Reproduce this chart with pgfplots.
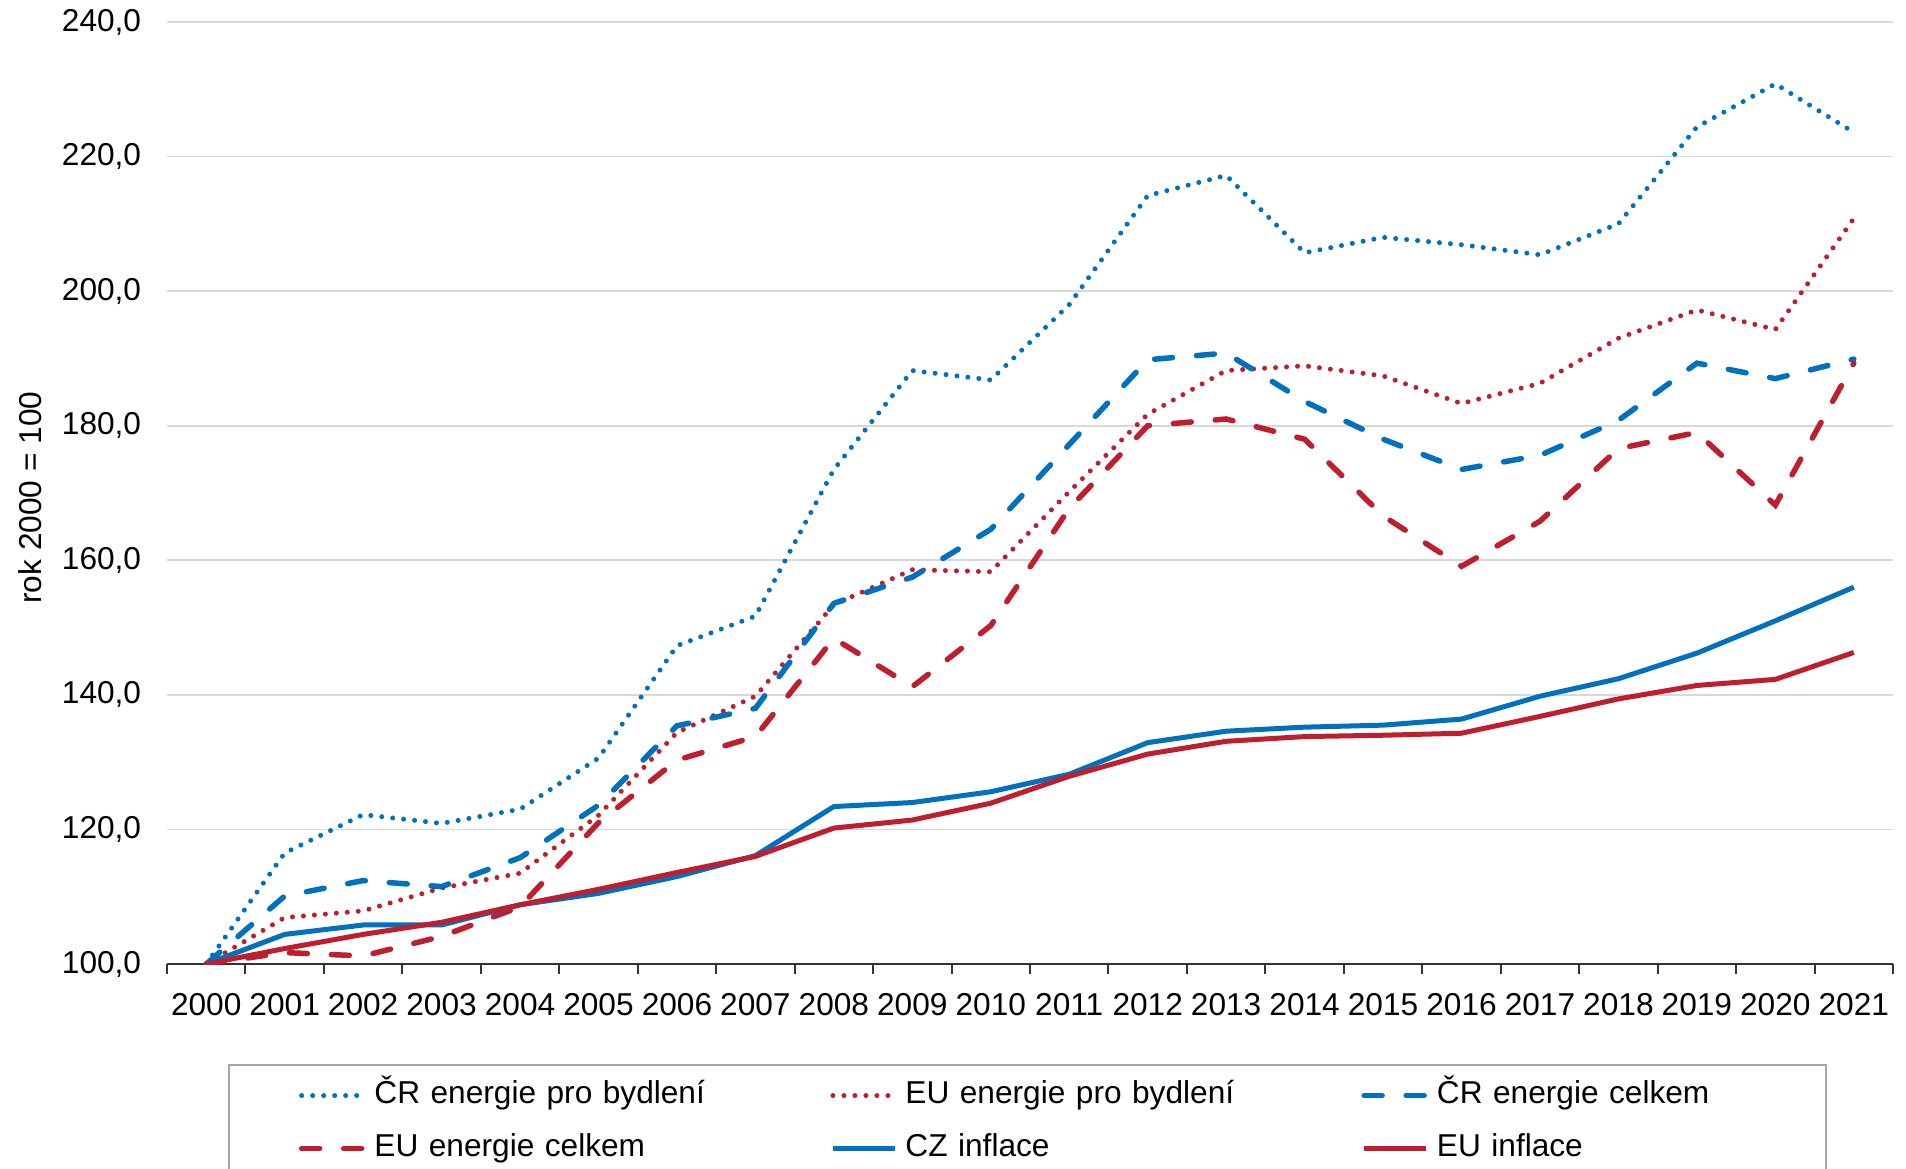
\documentclass[border=0pt]{standalone}
\usepackage{fontspec}
\setmainfont{Liberation Sans}
\usepackage{pgfplots}
\usepackage{pgfplotstable}
\pgfplotsset{compat=1.18}
\definecolor{cblue}{RGB}{0,112,192}
\definecolor{cred}{RGB}{190,30,45}
\definecolor{cgrid}{RGB}{217,217,217}

\pgfplotstableread{
i crb eub crc euc czi eui
0 100 100 100 100 100 100
1 116.5 106.9 110.1 101.7 104.4 102.3
2 122.2 107.9 112.4 101.2 105.8 104.4
3 120.9 111.3 111.5 104.1 105.8 106.2
4 123.0 113.5 115.8 108.5 108.8 108.8
5 130.6 122.1 123.6 121.0 110.5 111.1
6 147.3 134.4 135.4 130.3 113.0 113.6
7 151.7 139.8 138.0 133.8 116.1 116.0
8 173.5 153.4 153.6 148.4 123.4 120.2
9 188.2 158.6 157.5 141.2 124.0 121.4
10 186.8 158.3 164.6 150.3 125.6 123.9
11 198.0 170.2 177.2 167.7 128.2 127.9
12 214.2 181.7 189.8 180.0 132.9 131.2
13 217.2 188.2 190.8 181.0 134.6 133.1
14 205.7 188.9 183.6 178.0 135.2 133.8
15 208.0 187.4 178.0 166.6 135.5 134.0
16 206.9 183.3 173.5 159.1 136.4 134.3
17 205.4 186.3 175.6 165.8 139.8 136.8
18 210.0 193.0 180.8 176.6 142.4 139.4
19 224.4 197.2 189.3 179.0 146.2 141.4
20 230.8 194.3 187.0 168.2 151.0 142.3
21 223.6 210.8 189.9 189.3 156.0 146.3
}\data

\begin{document}
\begin{tikzpicture}[font=\fontsize{9pt}{11pt}\selectfont]
\useasboundingbox (0,0) rectangle (190.6mm,116.8mm);
\begin{axis}[
  at={(16.7mm,20.4mm)}, anchor=south west,
  scale only axis, width=172.6mm, height=94.2mm,
  xmin=-0.5, xmax=21.5, ymin=100, ymax=240,
  axis x line*=bottom, axis y line*=left,
  y axis line style={draw=none},
  x axis line style={black!80, line width=0.2mm},
  xtick={-0.5,0.5,...,21.5},
  x tick label as interval,
  xticklabels={2000,2001,2002,2003,2004,2005,2006,2007,2008,2009,2010,2011,2012,2013,2014,2015,2016,2017,2018,2019,2020,2021},
  x tick style={black!80, line width=0.2mm},
  tick align=outside, major tick length=0.95mm,
  ytick={100,120,...,240},
  y tick style={draw=none},
  ymajorgrids, grid style={cgrid, line width=0.17mm},
  yticklabel style={xshift=-0.4mm},
  xticklabel style={yshift=-0.75mm},
  /pgf/number format/.cd, fixed, fixed zerofill, precision=1, use comma, assume math mode=true,
  /pgfplots/.cd,
  ylabel={rok 2000 = 100},
  ylabel style={at={(axis description cs:-0.0794,0.495)}, anchor=center},
  legend columns=3, legend cell align=left,
  legend image code/.code={\draw[#1] (0mm,0mm) -- (6.2mm,0mm);},
  legend style={
    at={(axis description cs:0.0353,-0.1062)}, anchor=north west,
    draw=gray!70, line width=0.2mm,
    inner xsep=7mm, inner ysep=1.45mm,
    row sep=2.1mm,
    nodes={inner xsep=0.8mm, inner ysep=0pt, text width=36mm, align=left, text height=2.4mm, text depth=0.8mm},
    /tikz/every even column/.append style={column sep=8.8mm},
    /tikz/column 4/.append style={column sep=9.4mm},
    /tikz/column 6/.append style={nodes={text width=31.1mm}},
  },
  dotline/.style={line width=0.5mm, line cap=round, dash pattern=on 0pt off 1.1mm},
  dashline/.style={line width=0.55mm, line cap=round, dash pattern=on 1.8mm off 2.4mm},
  solidline/.style={line width=0.5mm, line join=round},
]
\addplot[cblue, dotline] table[x=i, y=crb] {\data};
\addlegendentry{ČR energie pro bydlení}
\addplot[cred, dotline] table[x=i, y=eub] {\data};
\addlegendentry{EU energie pro bydlení}
\addplot[cblue, dashline] table[x=i, y=crc] {\data};
\addlegendentry{ČR energie celkem}
\addplot[cred, dashline] table[x=i, y=euc] {\data};
\addlegendentry{EU energie celkem}
\addplot[cblue, solidline] table[x=i, y=czi] {\data};
\addlegendentry{CZ inflace}
\addplot[cred, solidline] table[x=i, y=eui] {\data};
\addlegendentry{EU inflace}
\end{axis}
\end{tikzpicture}
\end{document}
